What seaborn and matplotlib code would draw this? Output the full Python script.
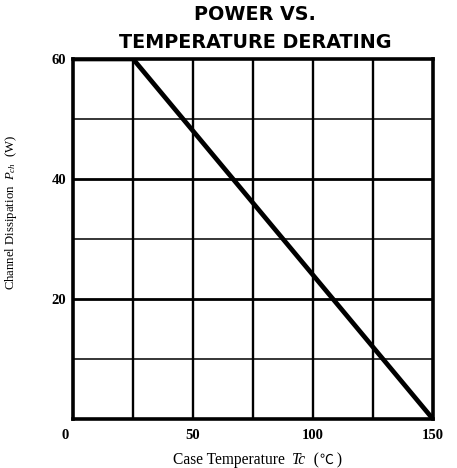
import numpy as np
import pandas as pd
import matplotlib
matplotlib.use("Agg")
import matplotlib.pyplot as plt
import matplotlib.transforms as mtransforms
import seaborn as sns

# derating curve
case_temp = [0, 25, 150]
power = [60, 60, 0]

x_ticks = [0, 50, 100, 150]
y_ticks = [20, 40, 60]
x_grid = [25, 50, 75, 100, 125]
y_grid_minor = [10, 30, 50]
y_grid_major = [20, 40]

df = pd.DataFrame({'Tc': case_temp, 'Pch': power})

sns.set_style("white")
plt.rcParams['font.family'] = ['Liberation Serif', 'DejaVu Sans', 'Noto Sans CJK JP']
plt.rcParams['text.color'] = 'black'
plt.rcParams['axes.labelcolor'] = 'black'
plt.rcParams['xtick.color'] = 'black'
plt.rcParams['ytick.color'] = 'black'
plt.rcParams['mathtext.fontset'] = 'custom'
plt.rcParams['mathtext.it'] = 'Liberation Serif:italic'
plt.rcParams['mathtext.rm'] = 'Liberation Serif'

fig = plt.figure(figsize=(4.57, 4.68), dpi=100)
ax = fig.add_axes([0.160, 0.105, 0.787, 0.769])

# grid
for gx in x_grid:
    ax.axvline(gx, color='black', lw=1.7, zorder=1)
for gy in y_grid_minor:
    ax.axhline(gy, color='black', lw=1.1, zorder=1)
for gy in y_grid_major:
    ax.axhline(gy, color='black', lw=2.0, zorder=1)

sns.lineplot(data=df, x='Tc', y='Pch', color='black', lw=3.4, ax=ax, zorder=3)

ax.set_xlim(0, 150)
ax.set_ylim(0, 60)
for s in ax.spines.values():
    s.set_linewidth(2.6)
    s.set_color('black')

ax.set_xticks(x_ticks)
ax.set_xticklabels([str(v) for v in x_ticks], fontsize=10.5, fontweight='bold')
ax.set_yticks(y_ticks)
ax.set_yticklabels([str(v) for v in y_ticks], fontsize=10.5, fontweight='bold')
ax.tick_params(axis='x', length=0, pad=7)
ax.tick_params(axis='y', length=0, pad=5)
lbl0 = ax.get_xticklabels()[0]
lbl0.set_transform(lbl0.get_transform() +
                   mtransforms.ScaledTranslation(-8 / 100, 0, fig.dpi_scale_trans))

ax.set_xlabel('')
ax.set_ylabel('')

# x label built in pieces so the italic Tc and the ℃ sign both render
t1 = fig.text(0.378, 0.008, 'Case Temperature  ', ha='left', va='baseline',
              fontsize=11.2)
t2 = fig.text(0, 0, 'Tc', fontsize=11.2, style='italic', va='baseline')
t3 = fig.text(0, 0, '  (', fontsize=11.2, va='baseline')
t4 = fig.text(0, 0, '\u2103', fontsize=10, va='baseline', family=['Noto Sans CJK JP'])
t5 = fig.text(0, 0, ' )', fontsize=11.2, va='baseline')
fig.canvas.draw()
prev = t1
for t in (t2, t3, t4, t5):
    bb = prev.get_window_extent()
    x_fig = fig.transFigure.inverted().transform((bb.x1, 0))[0]
    t.set_position((x_fig, 0.008))
    fig.canvas.draw()
    prev = t

fig.text(0.025, 0.547, 'Channel Dissipation  $P_{ch}$  (W)', ha='center', va='center',
         rotation=90, fontsize=9.2)

fig.text(0.558, 0.970, 'POWER VS.', ha='center', va='center',
         fontsize=13.8, fontweight='bold', family=['DejaVu Sans'])
fig.text(0.558, 0.910, 'TEMPERATURE DERATING', ha='center', va='center',
         fontsize=13.8, fontweight='bold', family=['DejaVu Sans'])

fig.savefig('out.png', dpi=100)
